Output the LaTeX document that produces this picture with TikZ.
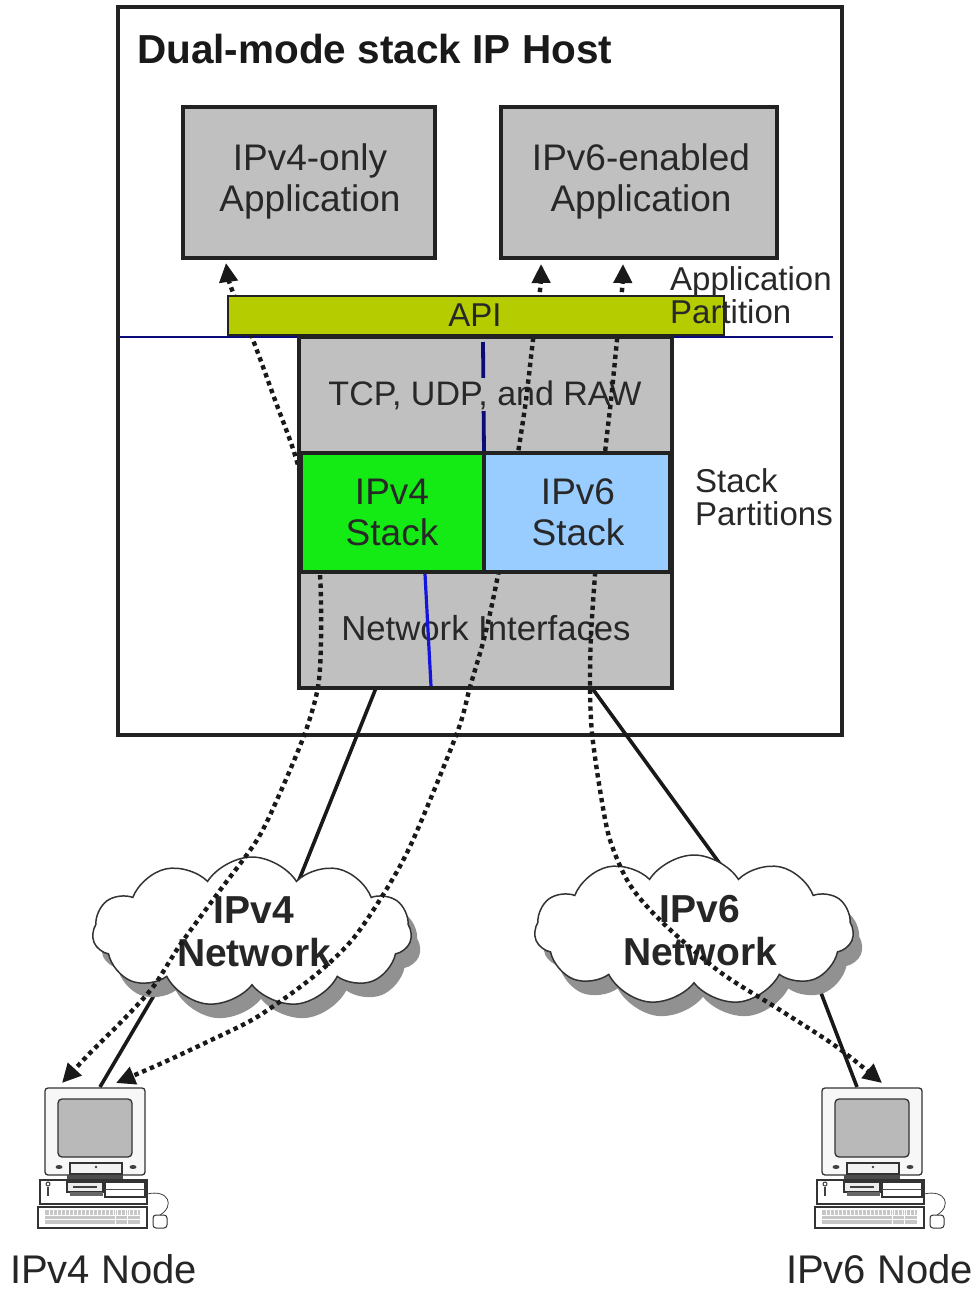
\documentclass[tikz,border=0pt]{standalone}
\usepackage{fontspec}
\setmainfont{Liberation Sans}
\usetikzlibrary{shapes.symbols,arrows.meta}
\definecolor{boxgrey}{RGB}{192,192,192}
\definecolor{apigreen}{RGB}{180,204,0}
\definecolor{stackgreen}{RGB}{20,235,20}
\definecolor{stackblue}{RGB}{153,204,255}
\definecolor{navyline}{RGB}{10,10,120}
\definecolor{blueline}{RGB}{20,20,220}
\definecolor{edge}{RGB}{34,34,34}
\definecolor{txtc}{RGB}{40,40,40}
\definecolor{screengrey}{RGB}{185,185,185}
\definecolor{shadowgrey}{RGB}{145,145,145}
\tikzset{
  greybox/.style={draw=edge, line width=3.5pt, fill=boxgrey},
  boxtxt/.style={font=\fontsize{37}{41}\selectfont, text=txtc, align=center, inner sep=0pt},
  midtxt/.style={font=\fontsize{34}{35}\selectfont, text=txtc, inner sep=0pt},
  sidetxt/.style={font=\fontsize{33}{33}\selectfont, text=txtc, align=left, inner sep=0pt, anchor=north west},
  cloudtxt/.style={font=\bfseries\fontsize{39}{43}\selectfont, text=black!85, align=center, inner sep=0pt},
  nodetxt/.style={font=\fontsize{40}{44}\selectfont, text=black!85, inner sep=0pt, anchor=base},
  netcloud/.style={cloud, cloud puffs=11, cloud puff arc=115, aspect=2.1,
    minimum width=319pt, minimum height=150pt, inner sep=0pt},
  wire/.style={draw=black!90, line width=3.6pt},
  dotarrow/.style={draw=black!90, line width=4.4pt, dash pattern=on 4.4pt off 4pt,
    {Triangle[length=19pt,width=18pt]}-{Triangle[length=19pt,width=18pt]}},
  pcline/.style={draw=black!80, line width=1.3pt},
  computer/.pic={
    \draw[pcline, fill=gray!6, rounded corners=3pt] (0,0) rectangle (100,87);
    \draw[pcline, fill=screengrey, rounded corners=4pt] (13,11) rectangle (87,69);
    \draw[pcline, fill=gray!10] (25,75) rectangle (77,86);
    \fill[black!75] (14,79) ellipse [x radius=3.5, y radius=2];
    \fill[black!75] (51,79) circle [radius=1.3];
    \fill[black!75] (88,79) ellipse [x radius=3.5, y radius=2];
    \fill[black!70] (22,87) rectangle (78,92);
    \draw[pcline, fill=white] (-5,92) rectangle (102,116);
    \draw[pcline, fill=gray!15] (22,94) rectangle (58,104);
    \draw[line width=1.5pt, black!75] (28,99) -- (52,99);
    \fill[black!60] (25,104) rectangle (58,108);
    \draw[pcline, fill=white] (60,94) rectangle (100,109);
    \draw[line width=0.8pt, black!70] (60,101) -- (100,101);
    \draw[line width=1pt, black!75] (3,96) circle [radius=2];
    \draw[line width=1.2pt, black!75] (3,99) -- (3,108);
    \draw[pcline, fill=white] (-7,119) rectangle (102,140);
    \fill[gray!45] (0,122) rectangle (95,136);
    \foreach \k in {4,8,...,92} {\draw[white, line width=0.7pt] (\k,122) -- (\k,127);}
    \draw[white, line width=0.8pt] (0,127.5) -- (95,127.5);
    \draw[white, line width=0.8pt] (0,131.5) -- (95,131.5);
    \draw[white, line width=1pt] (70,122) -- (70,136) (82,122) -- (82,136);
    \draw[pcline, line width=1pt, fill=white, rounded corners=3pt] (108,127) rectangle (122,140);
    \draw[line width=0.8pt, black!75] (102,106) .. controls (124,101) and (130,118) .. (115,127);
  }
}
\begin{document}
\begin{tikzpicture}[x=1pt,y=-1pt]
\useasboundingbox (0,0) rectangle (978,1293);
\fill[white] (0,0) rectangle (978,1293);

% host box
\draw[draw=edge, line width=3.5pt] (118,7) rectangle (842,735);
\node[anchor=base west, font=\bfseries\fontsize{40.5}{45}\selectfont, text=black!90, inner sep=0pt] (title) at (137,63) {Dual-mode stack IP Host};

% application boxes
\draw[greybox] (183,107) rectangle (435,258);
\node[boxtxt] (app4) at (310,181) {IPv4-only\\Application};
\draw[greybox] (501,107) rectangle (777,258);
\node[boxtxt] (app6) at (641,181) {IPv6-enabled\\Application};

% partition line
\draw[navyline, line width=2.8pt] (120,337) -- (833,337);

% stack
\draw[greybox, line width=4pt] (299,337) rectangle (672,688);
\draw[navyline, line width=3.8pt] (483,342) -- (484,453);
\node[midtxt, fill=boxgrey, inner sep=2pt, anchor=base] (tcp) at (485,405) {TCP, UDP, and RAW};
\node[midtxt, font=\fontsize{34.7}{36}\selectfont, anchor=base] (ni) at (486,640) {Network Interfaces};
\draw[blueline, line width=3.2pt] (425,574) -- (431,686);

% wires
\coordinate (s1a) at (376,688);
\coordinate (s1b) at (291,900);
\coordinate (s1c) at (166,975);
\coordinate (s1d) at (100,1087);
\coordinate (s2a) at (592,688);
\coordinate (s2b) at (739,890);
\coordinate (s2c) at (818,985);
\coordinate (s2d) at (857,1087);
\draw[wire] (s1a) -- (s1b);
\draw[wire] (s1c) -- (s1d);
\draw[wire] (s2a) -- (s2b);
\draw[wire] (s2c) -- (s2d);

% clouds
\node[netcloud, fill=shadowgrey] (cloud4s) at (261,946) {};
\node[netcloud, fill=white, draw=black!80, line width=1.5pt] (cloud4) at (252,932) {};
\node[cloudtxt] (c4t) at (254,932) {IPv4\\Network};
\node[netcloud, fill=shadowgrey] (cloud6s) at (703,944) {};
\node[netcloud, fill=white, draw=black!80, line width=1.5pt] (cloud6) at (694,930) {};
\node[cloudtxt] (c6t) at (700,931) {IPv6\\Network};

% dotted flows
\coordinate (t1) at (226,263);
\coordinate (t1b) at (62,1083);
\coordinate (t2) at (541,264);
\coordinate (t2b) at (116,1083);
\coordinate (t3) at (623,264);
\coordinate (t3b) at (882,1083);
\draw[dotarrow] plot[smooth, tension=0.5] coordinates {(t1) (232,290) (253,340) (275,400) (295,455) (312,520) (320,575) (321,640) (318,687) (305,733) (280,793) (257,840) (218,893) (180,945) (153,987) (123,1020) (90,1053) (t1b)};
\draw[dotarrow] plot[smooth, tension=0.5] coordinates {(t2) (540,290) (533,340) (526,400) (518,453) (508,515) (498,575) (485,635) (470,687) (457,733) (413,840) (386,890) (352,940) (313,977) (257,1017) (207,1042) (160,1064) (t2b)};
\draw[dotarrow] plot[smooth, tension=0.5] coordinates {(t3) (622,290) (617,340) (611,400) (605,453) (600,515) (595,575) (591,635) (590,687) (592,733) (600,790) (610,840) (630,885) (663,923) (720,972) (780,1010) (837,1047) (t3b)};

% API bar
\draw[fill=apigreen, draw=edge, line width=2.8pt] (228,296) rectangle (724,335);
\node[midtxt, font=\fontsize{33}{34}\selectfont, anchor=base] (api) at (475,326) {API};
\node[sidetxt] (apppart) at (670,266) {Application\\Partition};

% stack partitions
\draw[draw=edge, line width=3.5pt, fill=stackgreen] (301,453) rectangle (484,572);
\node[boxtxt] (v4s) at (392,512) {IPv4\\Stack};
\draw[draw=edge, line width=3.5pt, fill=stackblue] (484,453) rectangle (670,572);
\node[boxtxt] (v6s) at (578,512) {IPv6\\Stack};
\draw[draw=edge, line width=4pt] (299,337) rectangle (672,688);
\node[sidetxt] (stackpart) at (695,468) {Stack\\Partitions};

% computers
\pic (pc4) at (45,1088) {computer};
\pic (pc6) at (822,1088) {computer};
\node[nodetxt] (n4) at (103.5,1283) {IPv4 Node};
\node[nodetxt] (n6) at (879.5,1283) {IPv6 Node};
\end{tikzpicture}
\end{document}
